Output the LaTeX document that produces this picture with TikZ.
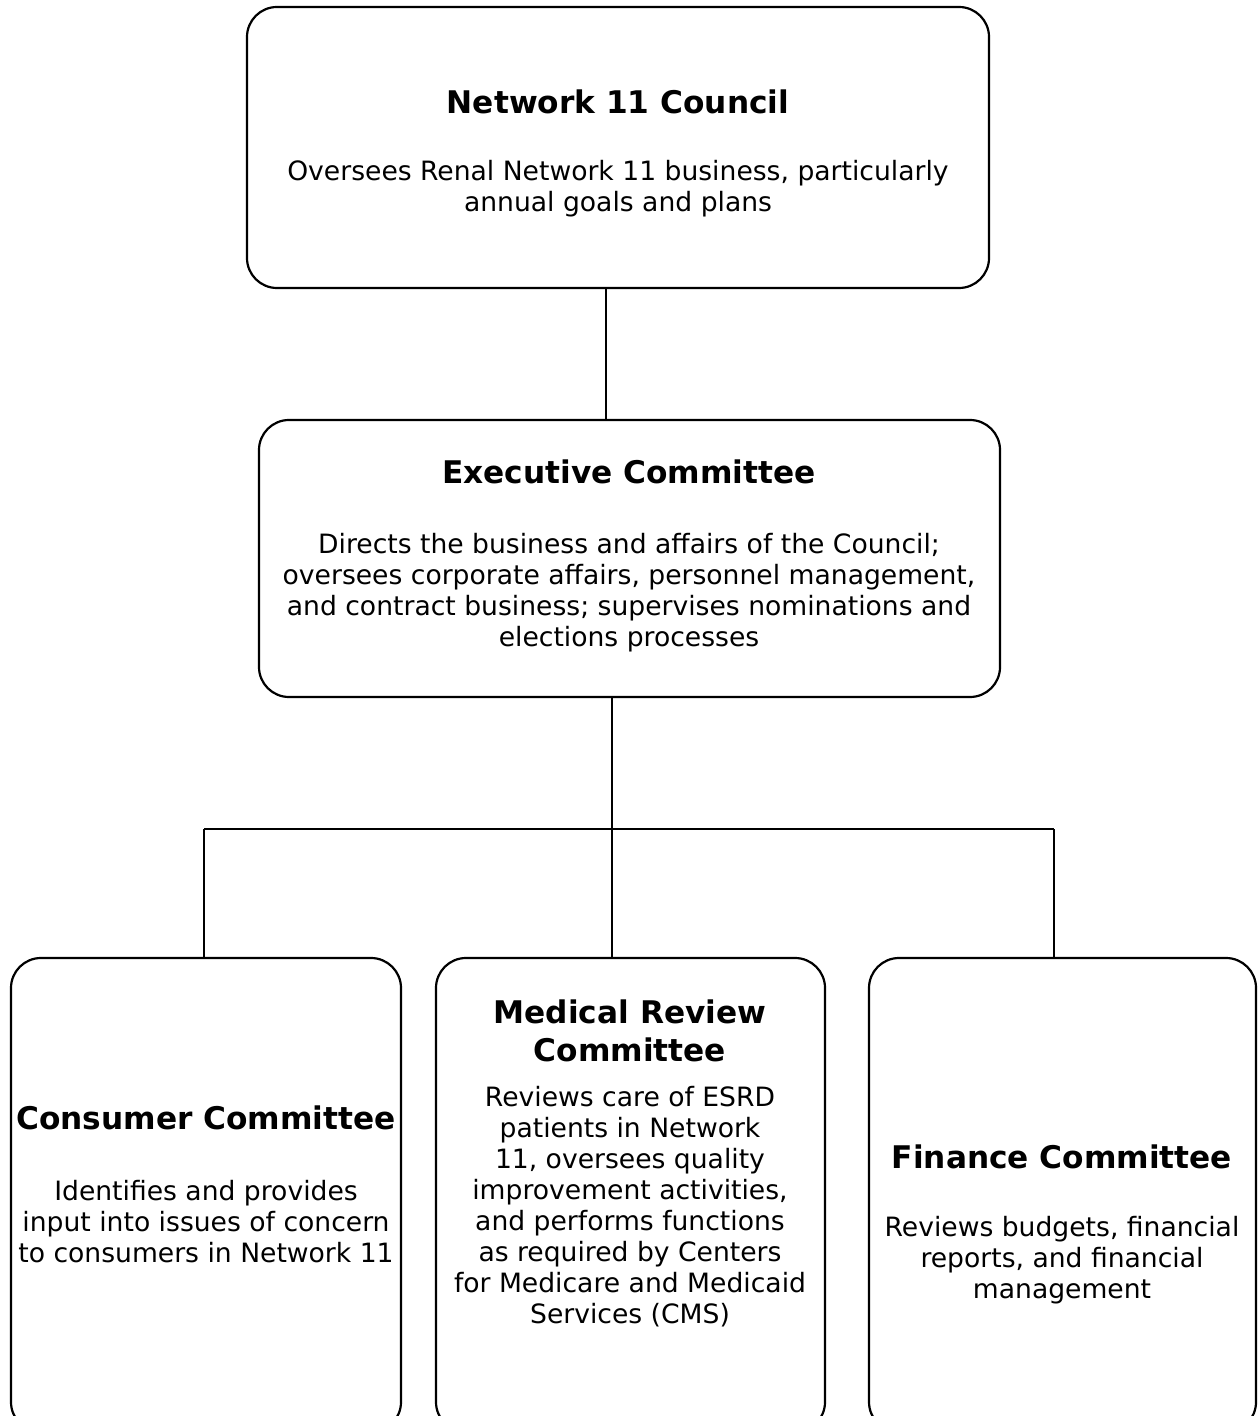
\documentclass[tikz,border=0pt]{standalone}
\usepackage{fontspec}
\setmainfont{DejaVu Sans}
\begin{document}
\begin{tikzpicture}[x=0.5pt,y=-0.5pt,
        box/.style={draw,rounded corners=15pt,line width=1.1pt,inner sep=0pt},
        link/.style={line width=1.1pt},
        head/.style={align=center,inner sep=0pt,
            font=\fontsize{15.6}{19}\selectfont\bfseries},
        body/.style={align=center,inner sep=0pt,
            font=\fontsize{13.3}{15.5}\selectfont}]
    \clip (0,0) rectangle (1257,1416);
    % boxes
    \node[box,minimum width=371pt,minimum height=140.5pt] (council) at (618,147.5) {};
    \node[box,minimum width=370.5pt,minimum height=138.5pt] (exec) at (629.5,558.5) {};
    \node[box,minimum width=195pt,minimum height=237pt] (cons) at (206,1195) {};
    \node[box,minimum width=194.5pt,minimum height=237pt] (med) at (630.5,1195) {};
    \node[box,minimum width=193.5pt,minimum height=237pt] (fin) at (1062.5,1195) {};
    % texts
    \node[head] (councilT) at (618,102) {Network 11 Council};
    \node[body] (councilB) at (618,189) {Oversees Renal Network 11 business, particularly\\annual goals and plans};
    \node[head] (execT) at (629,472) {Executive Committee};
    \node[body] (execB) at (629,593) {Directs the business and affairs of the Council;\\oversees corporate affairs, personnel management,\\and contract business; supervises nominations and\\elections processes};
    \node[head] (consT) at (206,1118) {Consumer Committee};
    \node[body] (consB) at (206,1222) {Identifies and provides\\input into issues of concern\\to consumers in Network 11};
    \node[head] (medT) at (630,1031) {Medical Review\\Committee};
    \node[body] (medB) at (630,1207) {Reviews care of ESRD\\patients in Network\\11, oversees quality\\improvement activities,\\and performs functions\\as required by Centers\\for Medicare and Medicaid\\Services (CMS)};
    \node[head] (finT) at (1062,1157) {Finance Committee};
    \node[body] (finB) at (1062,1260) {Reviews budgets, financial\\reports, and financial\\management};
    % connectors
    \coordinate (up) at (606,350);
    \coordinate (busL) at (204,829);
    \coordinate (busM) at (612,829);
    \coordinate (busR) at (1054,829);
    \draw[link] (council.south -| up) -- (exec.north -| up);
    \draw[link] (exec.south -| busM) -- (busM);
    \draw[link] (busL) -- (busR);
    \draw[link] (busL) -- (busL |- cons.north);
    \draw[link] (busM) -- (busM |- med.north);
    \draw[link] (busR) -- (busR |- fin.north);
\end{tikzpicture}
\end{document}
